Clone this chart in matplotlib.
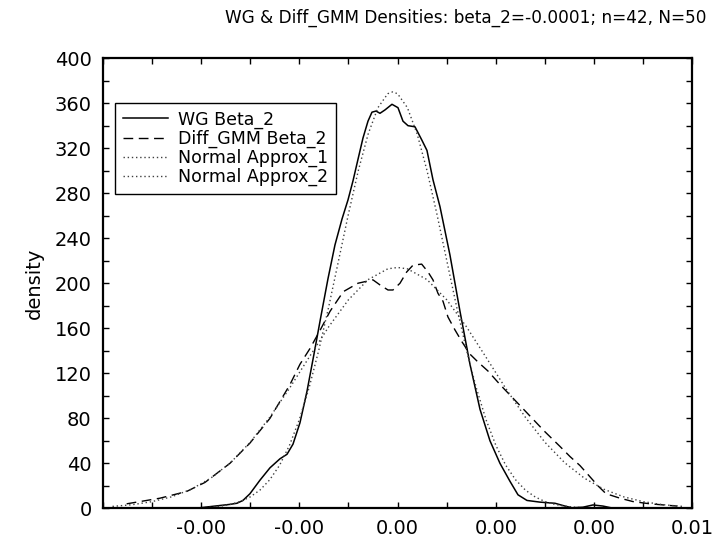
import numpy as np
import matplotlib.pyplot as plt
from matplotlib.ticker import MultipleLocator, FormatStrFormatter, FixedLocator

# WG Beta_2 kernel density
wg_x = [-0.004020, -0.003715, -0.003410, -0.003268, -0.003146, -0.003003, -0.002800,
        -0.002596, -0.002393, -0.002250, -0.002128, -0.001986, -0.001843, -0.001701,
        -0.001558, -0.001416, -0.001274, -0.001131, -0.001009, -0.000907, -0.000806,
        -0.000704, -0.000602, -0.000521, -0.000439, -0.000358, -0.000256, -0.000114,
        0.000008, 0.000110, 0.000212, 0.000354, 0.000496, 0.000598, 0.000720, 0.000863,
        0.001066, 0.001270, 0.001473, 0.001677, 0.001880, 0.002083, 0.002287, 0.002450,
        0.002633, 0.002897, 0.003202, 0.003406, 0.003548, 0.003772, 0.003976, 0.004179,
        0.004362]
wg_y = [0.5, 2, 3.5, 4.5, 7, 13, 25, 36, 44, 48, 57, 76, 104, 137, 171, 204, 234, 257,
        274, 291, 310, 329, 344, 352, 353, 351, 354, 359, 356, 344, 340, 339, 327, 318,
        292, 268, 225, 175, 128, 88, 60, 40, 24, 12, 7, 5.5, 4.5, 2, 0.5, 1, 3, 2, 0.3]

# Diff_GMM Beta_2 kernel density
gmm_x = [-0.005512, -0.004834, -0.004291, -0.003919, -0.003410, -0.003003, -0.002596,
         -0.002189, -0.001986, -0.001782, -0.001579, -0.001375, -0.001105, -0.000806,
         -0.000501, -0.000358, -0.000195, -0.000094, 0.000049, 0.000185, 0.000313,
         0.000490, 0.000619, 0.000720, 0.000822, 0.000924, 0.001025, 0.001168, 0.001310,
         0.001473, 0.001636, 0.001839, 0.002083, 0.002389, 0.002694, 0.002999, 0.003304,
         0.003508, 0.003711, 0.003915, 0.004077, 0.004240, 0.004525, 0.004789, 0.005135,
         0.005685]
gmm_y = [4, 9, 15, 23, 40, 58, 80, 110, 128, 142, 158, 175, 192.5, 200, 203, 198.5, 194,
         194, 200, 210, 216, 217, 210, 203, 191, 184, 170, 158.5, 148, 137, 130, 122, 110,
         96, 82, 68, 55, 46, 38, 28, 20, 13, 9, 6, 4, 2]

# Normal Approx_1
n1_x = [-0.0040, -0.0038, -0.0036, -0.0034, -0.0032, -0.0030, -0.0028, -0.0026, -0.0024,
        -0.0022, -0.0020, -0.0018, -0.0016, -0.0014, -0.0012, -0.0010, -0.0008, -0.0006,
        -0.0004, -0.0002, -0.0001, 0.0000, 0.0002, 0.0004, 0.0006, 0.0008, 0.0010, 0.0012,
        0.0014, 0.0016, 0.0018, 0.0020, 0.0022, 0.0024, 0.0026, 0.0028, 0.0030, 0.0032,
        0.0034, 0.0036, 0.0038]
n1_y = [0.5, 1.0, 1.9, 3.5, 6.0, 10.1, 16.2, 25.4, 38.3, 55.9, 78.7, 107.2, 141, 179.3,
        220.3, 261.5, 299.9, 332.4, 356, 368.4, 370, 368.4, 356, 332.4, 299.9, 261.5, 220.3,
        179.3, 141, 107.2, 78.7, 55.9, 38.3, 25.4, 16.2, 10.1, 6.0, 3.5, 1.9, 1.0, 0.5]

# Normal Approx_2
n2_x = [-0.0058, -0.0054, -0.0050, -0.0046, -0.0042, -0.0038, -0.0034, -0.0030, -0.0026,
        -0.0022, -0.0018, -0.0014, -0.0010, -0.0006, -0.0002, 0.0000, 0.0002, 0.0006,
        0.0010, 0.0014, 0.0018, 0.0022, 0.0026, 0.0030, 0.0034, 0.0038, 0.0042, 0.0046,
        0.0050, 0.0054, 0.0058]
n2_y = [1.7, 3.2, 5.9, 10.2, 16.9, 26.8, 40.5, 58.6, 80.9, 106.6, 134.2, 161.4, 185.3,
        203.2, 212.8, 214, 212.8, 203.2, 185.3, 161.4, 134.2, 106.6, 80.9, 58.6, 40.5, 26.8,
        16.9, 10.2, 5.9, 3.2, 1.7]

x_ticks = [-0.004, -0.002, 0.0, 0.002, 0.004, 0.006]
y_ticks = list(range(0, 401, 40))

if __name__ == '__main__':
    plt.rcParams['font.family'] = 'DejaVu Sans'
    fig = plt.figure(figsize=(7.17, 5.45), dpi=100)
    ax = fig.add_axes([0.1432, 0.0673, 0.8226, 0.826])

    ax.plot(wg_x, wg_y, color='k', lw=1.1, label='WG Beta_2')
    ax.plot(gmm_x, gmm_y, color='k', lw=1.0, dashes=(7, 4), label='Diff_GMM Beta_2')
    ax.plot(n1_x, n1_y, color='0.25', lw=1.0, dashes=(1, 2), label='Normal Approx_1')
    ax.plot(n2_x, n2_y, color='0.25', lw=1.0, dashes=(1, 2), label='Normal Approx_2')

    ax.set_xlim(-0.006, 0.006)
    ax.set_ylim(0, 400)
    ax.xaxis.set_major_locator(FixedLocator(x_ticks))
    ax.xaxis.set_major_formatter(FormatStrFormatter('%.2f'))
    ax.xaxis.set_minor_locator(MultipleLocator(0.001))
    ax.set_yticks(y_ticks)
    ax.yaxis.set_minor_locator(MultipleLocator(20))
    ax.tick_params(which='both', direction='in', top=True, right=True,
                   length=4, width=1, labelsize=14, pad=8)
    for s in ax.spines.values():
        s.set_linewidth(1.6)

    ax.set_ylabel('density', fontsize=14, labelpad=8)
    fig.text(0.986, 0.967, 'WG & Diff_GMM Densities: beta_2=-0.0001; n=42, N=50',
             ha='right', va='center', fontsize=12.2)

    leg = ax.legend(loc='upper left', bbox_to_anchor=(0.021, 0.901), borderaxespad=0,
                    fontsize=12.5, fancybox=False, shadow=False, framealpha=1,
                    edgecolor='k', handlelength=2.6, handletextpad=0.6,
                    labelspacing=0.05, borderpad=0.45)
    leg.get_frame().set_linewidth(1.0)

    fig.savefig('out.png', dpi=100)
